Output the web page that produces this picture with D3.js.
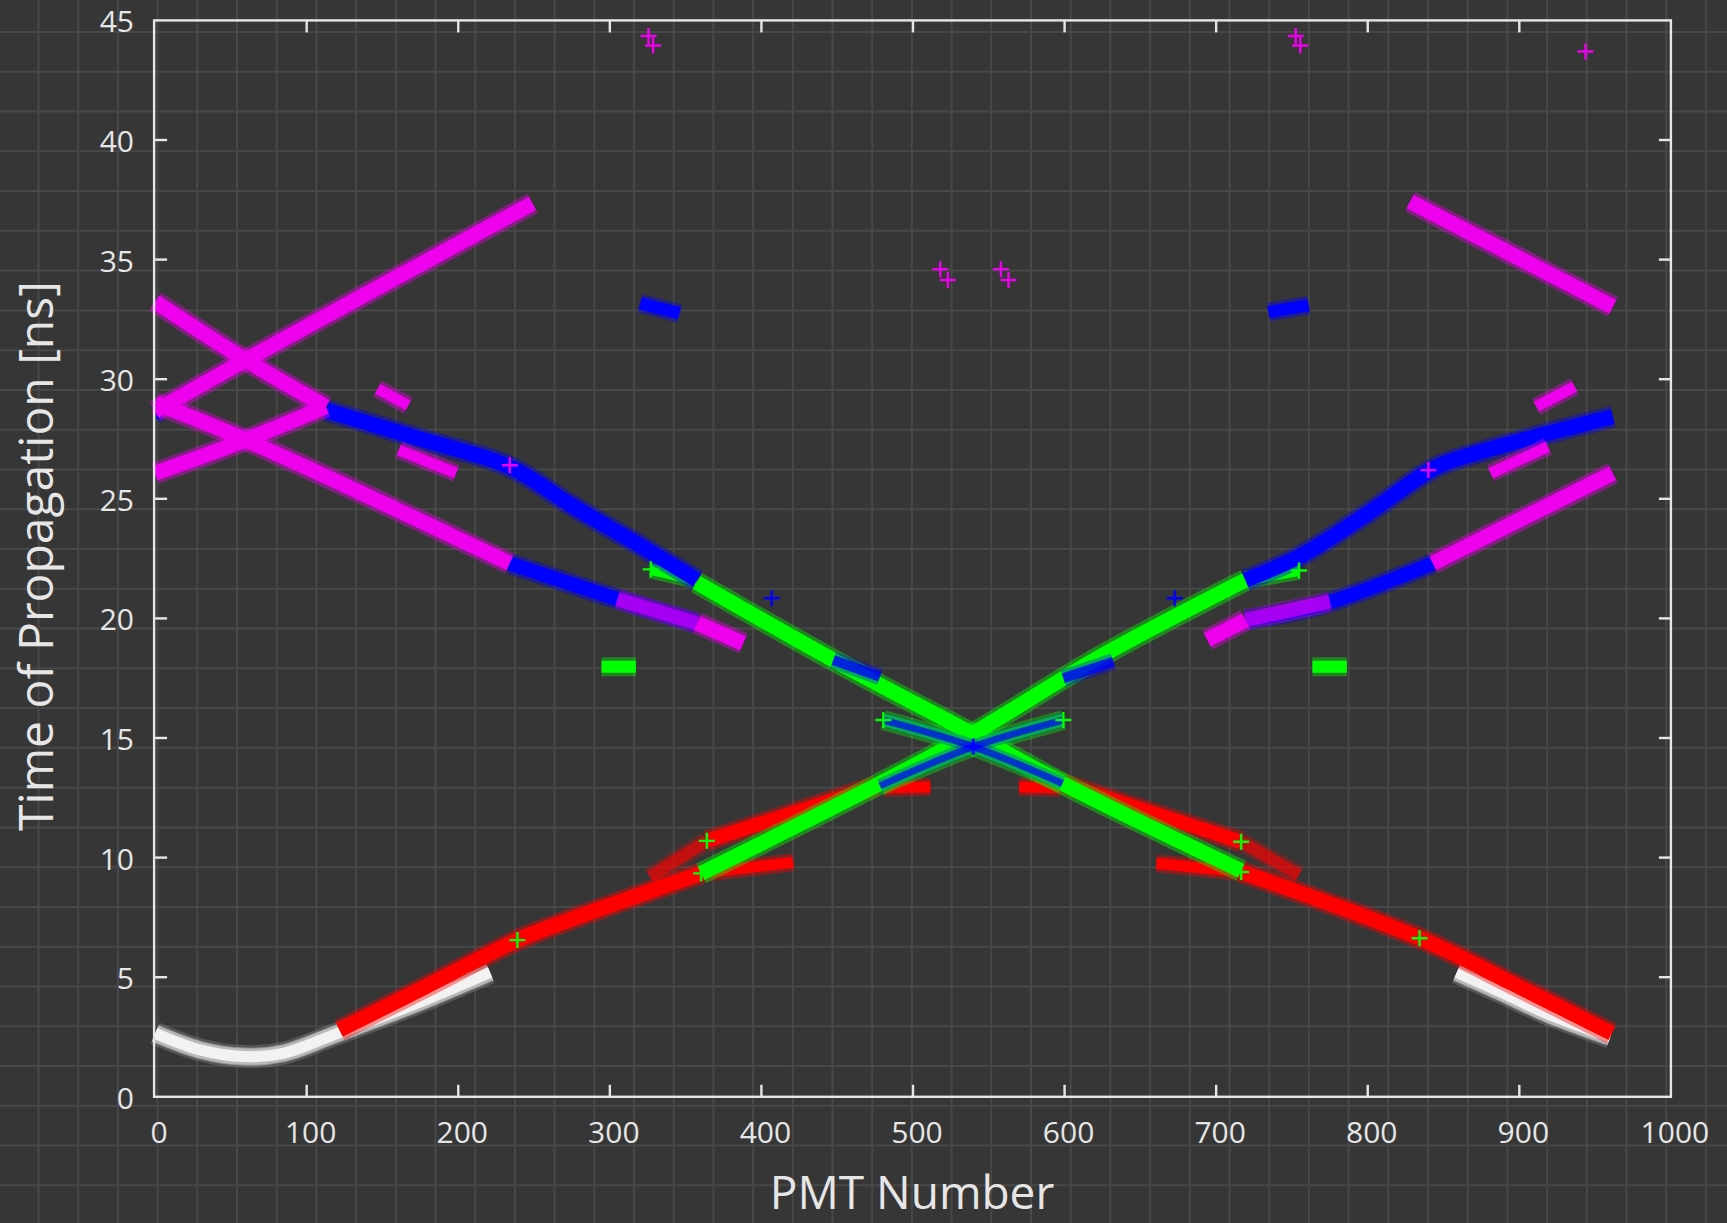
<!DOCTYPE html>
<html>
<head>
<meta charset="utf-8">
<script src="https://cdnjs.cloudflare.com/ajax/libs/d3/7.8.5/d3.min.js"></script>
<style>
  html, body { margin: 0; padding: 0; background: #363636; overflow: hidden; }
  svg { display: block; }
</style>
</head>
<body>
<script>
"use strict";

// ---------------- axis ticks
const xTicks = [0, 100, 200, 300, 400, 500, 600, 700, 800, 900, 1000];
const yTicks = [0, 5, 10, 15, 20, 25, 30, 35, 40, 45];

// ---------------- bands: [PMT number, time ns]
// white
const whiteLeft  = [[0, 2.65], [29.6, 1.96], [58.2, 1.68], [84.6, 1.82], [117.6, 2.58], [172.6, 3.91], [221, 5.2]];
const whiteRight = [[858.7, 5.2], [887.3, 4.39], [920.3, 3.42], [953.2, 2.65], [960, 2.5]];

// red
const redLowLeft    = [[121.6, 2.79], [178.4, 4.6], [239, 6.55], [269.3, 7.3], [360.2, 9.34]];
const redLowRight   = [[716.5, 9.4], [834.2, 6.63], [896, 4.72], [961, 2.65]];
const redUpLeft     = [[364, 10.7], [476, 13.0]];
const redUpRight    = [[598.6, 13.1], [716.5, 10.66]];
const redFaintLeft  = [[326.5, 9.2], [364, 10.7]];
const redFaintRight = [[716.5, 10.66], [754.7, 9.27]];
const redStubs = [
  [[359.5, 9.34], [421, 9.8]],
  [[660.5, 9.76], [716.5, 9.4]],
  [[481, 12.92], [511.5, 12.95]],
  [[570, 12.95], [597, 12.92]]
];

// green
const greenDown  = [[357.3, 21.5], [447.4, 18.26], [539.8, 15.15], [598.6, 13.1], [716.5, 9.45]];
const greenUp    = [[360.2, 9.34], [478.2, 13.1], [539.8, 15.2], [623.4, 18.4], [719.3, 21.6]];
const greenShort = [
  [[327, 22.05], [357.6, 21.6]],
  [[719.3, 21.6], [754.7, 22.0]]
];
const lowerXa = [[480.4, 15.75], [539.8, 14.64], [598.6, 13.1]];
const lowerXb = [[599.2, 15.75], [539.8, 14.64], [478.2, 13.0]];
const greenBlobs = [
  [[294.5, 17.98], [317.2, 17.98]],
  [[763.5, 17.98], [786.2, 17.98]]
];
const greenPlus = [[239, 6.55], [360.2, 9.34], [364, 10.7], [716.5, 10.66], [716.5, 9.4],
  [834.2, 6.63], [480.4, 15.75], [599.2, 15.75], [327, 22.05], [754.7, 22.0]];

// blue
const blueUpLeft   = [[112.7, 28.7], [173.4, 27.53], [233.9, 26.34], [274.3, 24.74], [324.8, 22.86], [357.6, 21.6]];
const blueUpRight  = [[719.3, 21.6], [754.7, 22.58], [800, 24.39], [838, 26.07], [850.6, 26.48], [905, 27.5], [961.7, 28.43]];
const blueLowLeft  = [[233.9, 22.3], [307.1, 20.77], [357.6, 19.8]];
const blueLowRight = [[719.3, 19.93], [772.3, 20.63], [843, 22.3]];
const blueOnGreen = [
  [[447.4, 18.26], [478.2, 17.56]],
  [[599.2, 17.5], [632.2, 18.19]]
];
const blueBlobs = [
  [[320, 33.17], [346, 32.75]],
  [[734.5, 32.8], [761, 33.1]],
  [[0, 28.55], [4, 28.65]]
];
const bluePlus = [[406.8, 20.84], [672.6, 20.84], [539.8, 14.64]];

// magenta
const magA = [[0, 33.24], [59.8, 30.8], [112.7, 28.85]];
const magB = [[0, 26.07], [59.8, 27.46], [112.7, 28.85]];
const magC = [[0, 28.66], [59.8, 30.8], [249, 37.35]];
const magD = [[0, 29.0], [59.8, 27.46], [233.9, 22.3]];
const magRightDown = [[827.9, 37.42], [961.7, 33.03]];
const magRightUp   = [[843, 22.3], [961.7, 26.07]];
const magLowLeft   = [[357.6, 19.8], [388, 18.96]];
const magLowRight  = [[694.1, 19.1], [719.3, 19.93]];
const magMixLeft   = [[305, 20.8], [357.6, 19.8]];
const magMixRight  = [[719.3, 19.93], [775, 20.7]];
const magShort = [
  [[146.8, 29.6], [167, 28.9]],
  [[160.7, 27.04], [198.6, 26.07]],
  [[911.2, 28.85], [936.5, 29.69]],
  [[881, 26.07], [918.8, 27.18]]
];
const magPlus = [[234, 26.4], [840, 26.2], [325.5, 44.35], [328.5, 43.95], [752.5, 44.35], [755.5, 43.95],
  [943.7, 43.7], [518, 34.6], [523, 34.15], [558, 34.6], [563, 34.15]];

// ---------------- layout
const WIDTH = 1727, HEIGHT = 1223;
const BG = "#363636", GRID = "#484848", FG = "#e6e6e6";
const RED = "#ff0000", GREEN = "#00ff00", BLUE = "#0000ff", MAG = "#ee00ee", WHITE = "#f2f2f2";

const svg = d3.select("body").append("svg")
  .attr("width", WIDTH)
  .attr("height", HEIGHT);

svg.append("rect").attr("width", WIDTH).attr("height", HEIGHT).attr("fill", BG);

// background paper grid
const gGrid = svg.append("g").attr("stroke", GRID).attr("stroke-width", 2);
gGrid.selectAll("line.v").data(d3.range(0, 44)).join("line")
  .attr("x1", k => 38.5 + 39.7 * k).attr("x2", k => 38.5 + 39.7 * k)
  .attr("y1", 0).attr("y2", HEIGHT);
gGrid.selectAll("line.h").data(d3.range(0, 31)).join("line")
  .attr("y1", k => 32 + 39.77 * k).attr("y2", k => 32 + 39.77 * k)
  .attr("x1", 0).attr("x2", WIDTH);

const x = d3.scaleLinear().domain([0, 1000]).range([155.1, 1670.9]);
const y = d3.scaleLinear().domain([0, 45]).range([1096.8, 20.4]);

const gPlot = svg.append("g");
const line = d3.line().x(d => x(d[0])).y(d => y(d[1])).curve(d3.curveCatmullRom.alpha(0.5));

// a band of dense "+" markers: fuzzy halo plus solid core
function band(pts, color, w, op) {
  op = op == null ? 1 : op;
  gPlot.append("path").datum(pts).attr("d", line)
    .attr("fill", "none").attr("stroke", color).attr("stroke-width", w + 7)
    .attr("stroke-opacity", 0.4 * op).attr("stroke-linejoin", "round");
  gPlot.append("path").datum(pts).attr("d", line)
    .attr("fill", "none").attr("stroke", color).attr("stroke-width", w)
    .attr("stroke-opacity", op).attr("stroke-linejoin", "round");
}

function plus(pts, color, s) {
  gPlot.append("g").selectAll("path").data(pts).join("path")
    .attr("d", d => `M${x(d[0]) - s},${y(d[1])}h${2 * s}M${x(d[0])},${y(d[1]) - s}v${2 * s}`)
    .attr("stroke", color).attr("stroke-width", 2.4).attr("fill", "none");
}

// white
band(whiteLeft, "#bdbdbd", 16, 0.6);
band(whiteLeft, WHITE, 11);
band(whiteRight, "#bdbdbd", 16, 0.6);
band(whiteRight, WHITE, 11);

// red
band(redFaintLeft, RED, 12, 0.6);
band(redFaintRight, RED, 12, 0.6);
band(redLowLeft, RED, 15);
band(redLowRight, RED, 15);
band(redUpLeft, RED, 14);
band(redUpRight, RED, 14);
redStubs.forEach(s => band(s, RED, 11));

// green
band(greenDown, GREEN, 15);
band(greenUp, GREEN, 15);
greenShort.forEach(s => band(s, GREEN, 11));
band(lowerXa, GREEN, 13, 0.9);
band(lowerXb, GREEN, 13, 0.9);
greenBlobs.forEach(s => band(s, GREEN, 12));

// blue
band(blueUpLeft, BLUE, 15);
band(blueUpRight, BLUE, 15);
band(blueLowLeft, BLUE, 14);
band(blueLowRight, BLUE, 14);
blueOnGreen.forEach(s => band(s, BLUE, 10, 0.8));
blueBlobs.forEach(s => band(s, BLUE, 12));
band(lowerXa, BLUE, 7, 0.7);
band(lowerXb, BLUE, 7, 0.7);

// magenta
[magA, magB, magC, magD, magRightDown, magRightUp, magLowLeft, magLowRight].forEach(s => band(s, MAG, 15));
band(magMixLeft, MAG, 14, 0.6);
band(magMixRight, MAG, 14, 0.6);
magShort.forEach(s => band(s, MAG, 11));

plus(greenPlus, GREEN, 8);
plus(bluePlus, BLUE, 8);
plus(magPlus, MAG, 8);

// frame and ticks (mirrored, pointing inward)
const gAxes = svg.append("g").attr("stroke", FG).attr("stroke-width", 2.4).attr("fill", "none");
gAxes.append("rect")
  .attr("x", x(0) - 1).attr("y", y(45))
  .attr("width", x(1000) - x(0) + 1).attr("height", y(0) - y(45));
const TICK = 12;
gAxes.selectAll("line.xb").data(xTicks.slice(1, -1)).join("line")
  .attr("x1", d => x(d)).attr("x2", d => x(d)).attr("y1", y(0)).attr("y2", y(0) - TICK);
gAxes.selectAll("line.xt").data(xTicks.slice(1, -1)).join("line")
  .attr("x1", d => x(d)).attr("x2", d => x(d)).attr("y1", y(45)).attr("y2", y(45) + TICK);
gAxes.selectAll("line.yl").data(yTicks.slice(1, -1)).join("line")
  .attr("y1", d => y(d)).attr("y2", d => y(d)).attr("x1", x(0)).attr("x2", x(0) + TICK);
gAxes.selectAll("line.yr").data(yTicks.slice(1, -1)).join("line")
  .attr("y1", d => y(d)).attr("y2", d => y(d)).attr("x1", x(1000)).attr("x2", x(1000) - TICK);

const FONT = "'Open Sans', 'Liberation Sans', sans-serif";
const gText = svg.append("g").attr("fill", FG).style("font-family", FONT);

gText.selectAll("text.xl").data(xTicks).join("text")
  .attr("x", d => x(d) + 4).attr("y", y(0) + 46)
  .attr("text-anchor", "middle").attr("font-size", 30)
  .text(d => d);

gText.selectAll("text.yl").data(yTicks).join("text")
  .attr("x", 134).attr("y", d => y(d) + 12)
  .attr("text-anchor", "end").attr("font-size", 30)
  .text(d => d);

gText.append("text")
  .attr("x", 912).attr("y", 1209)
  .attr("text-anchor", "middle").attr("font-size", 46)
  .text("PMT Number");

gText.append("text")
  .attr("transform", "translate(53,556) rotate(-90)")
  .attr("text-anchor", "middle").attr("font-size", 48)
  .text("Time of Propagation [ns]");
</script>
</body>
</html>
